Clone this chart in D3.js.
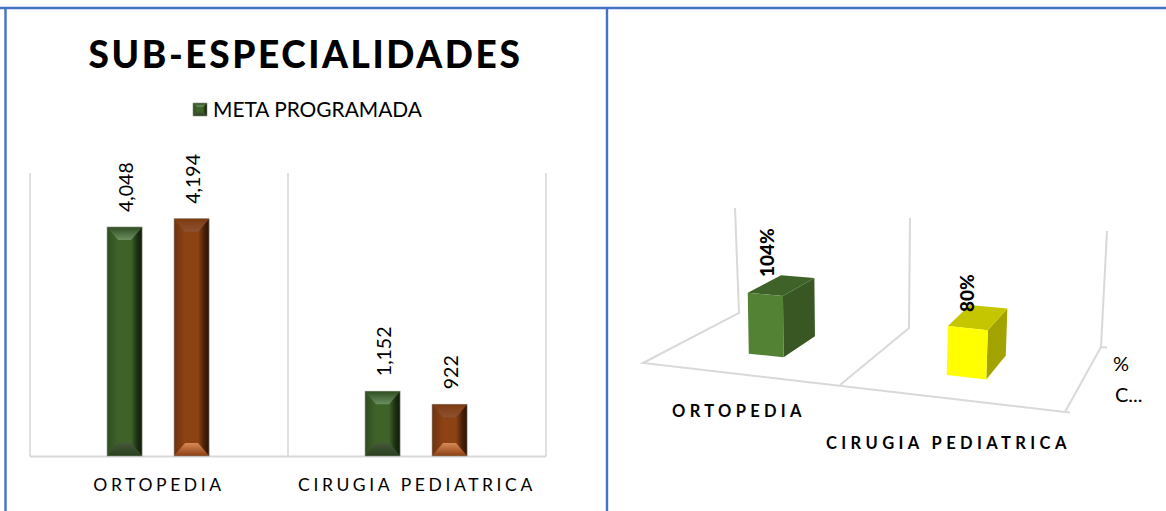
<!DOCTYPE html>
<html><head><meta charset="utf-8">
<script src="https://cdn.jsdelivr.net/npm/d3@7"></script>
<style>html,body{margin:0;padding:0;background:#fff}svg{display:block}text{font-family:Lato,"Noto Sans",sans-serif;fill:#000}</style>
</head><body><div id="c"></div>
<script>
const categories=["ORTOPEDIA","CIRUGIA PEDIATRICA"];
const metaProgramada=[4048,1152];
const metaAlcanzada=[4194,922];
const cumplimiento=[1.04,0.80];
const chartTitle="SUB-ESPECIALIDADES";
const legendLabel="META PROGRAMADA";
const legend3d=["%","C..."];
const fmt=d3.format(",");
const pct=d3.format(".0%");
const W=1166,H=511;
const svg=d3.select("#c").append("svg").attr("width",W).attr("height",H);
const defs=svg.append("defs");
function grad(id,stops,x2,y2){const g=defs.append("linearGradient").attr("id",id).attr("x1",0).attr("y1",0).attr("x2",x2).attr("y2",y2);
 stops.forEach(s=>g.append("stop").attr("offset",s[0]).attr("stop-color",s[1]));}
const skins={
 g:{c:"#3f6229",l:"#2f4d22",r:"#1c3012",e:"#0f1d08",t0:"#2f4d22",t1:"#6a9060",b0:"#283f1c",b1:"#45583a"},
 b:{c:"#8d4213",l:"#6f3210",r:"#4a2109",e:"#2a1205",t0:"#7e3a10",t1:"#8c5230",b0:"#8a3f12",b1:"#d98a55"}};
Object.entries(skins).forEach(([k,s])=>{
 grad("L"+k,[[0,s.l],[1,s.c]],1,0);
 grad("R"+k,[[0,s.c],[.55,s.r],[1,s.e]],1,0);
 grad("T"+k,[[0,s.t0],[1,s.t1]],0,1);
 grad("B"+k,[[0,s.b1],[1,s.b0]],0,1);
});
// panel frame
const blue="#4472c4";
[[5.5,8,5.5,H],[0,8,W,8],[607,8,607,H]].forEach(l=>svg.append("line").attr("x1",l[0]).attr("y1",l[1]).attr("x2",l[2]).attr("y2",l[3]).attr("stroke",blue).attr("stroke-width",2.4));
// left chart
const x0=d3.scaleBand().domain(categories).range([30,546]);
const y=d3.scaleLinear().domain([0,5000]).range([456.5,173]);
const x1=d3.scaleBand().domain([0,1]).range([0,x0.bandwidth()]).paddingInner(.478).paddingOuter(1.164).align(.494);
const L=svg.append("g");
const ticks=[...categories.map(c=>x0(c)),x0.range()[1]];
L.selectAll("line.g").data(ticks).join("line").attr("x1",d=>d).attr("x2",d=>d).attr("y1",y(5000)).attr("y2",y(0)).attr("stroke","#d9d9d9").attr("stroke-width",1.6);
L.append("line").attr("x1",30).attr("x2",546).attr("y1",y(0)).attr("y2",y(0)).attr("stroke","#d9d9d9").attr("stroke-width",1.8);
function pts(a){return a.map(p=>p.join(",")).join(" ");}
function bevelBar(g,xl,xr,yt,yb,k,inset,insV){
 const xa=xl+inset,xb=xr-inset,ya=yt+insV,yc=yb-insV;
 const P=(a,f)=>g.append("polygon").attr("points",pts(a)).attr("fill",f);
 P([[xl,yt],[xr,yt],[xr,yb],[xl,yb]],skins[k].c);
 P([[xl,yt],[xa,ya],[xa,yc],[xl,yb]],`url(#L${k})`);
 P([[xr,yt],[xb,ya],[xb,yc],[xr,yb]],`url(#R${k})`);
 P([[xl,yt],[xr,yt],[xb,ya],[xa,ya]],`url(#T${k})`);
 P([[xl,yb],[xr,yb],[xb,yc],[xa,yc]],`url(#B${k})`);
 g.append("rect").attr("x",xl).attr("y",yt).attr("width",xr-xl).attr("height",yb-yt).attr("fill","none").attr("stroke","#8a8a80").attr("stroke-width",.6);
}
[[metaProgramada,"g",0],[metaAlcanzada,"b",1]].forEach(([vals,k,si])=>{
 vals.forEach((v,i)=>{
  const xl=x0(categories[i])+x1(si),xr=xl+x1.bandwidth();
  bevelBar(L.append("g"),xl,xr,y(v),y(0)-.5,k,11,13);
  L.append("text").attr("transform",`translate(${(xl+xr)/2+8},${y(v)-15}) rotate(-90)`).attr("font-size",19.5).text(fmt(v));
 });
});
L.selectAll("text.c").data(categories).join("text").attr("x",d=>x0(d)+x0.bandwidth()/2).attr("y",491).attr("text-anchor","middle").attr("font-size",17.5).attr("letter-spacing",3.6).text(d=>d);
svg.append("text").attr("x",305.5).attr("y",68).attr("text-anchor","middle").attr("font-size",37).attr("font-weight",900).attr("letter-spacing",2.6).text(chartTitle);
bevelBar(svg.append("g"),193,207,103,116,"g",4,4);
svg.append("text").attr("x",213).attr("y",116.5).attr("font-size",20.9).text(legendLabel);
// right pseudo-3D chart: floor mapped from category (u) and depth (v)
const frontX=d3.scaleLinear().domain([0,1,2]).range([643,840,1065]);
const frontY=d3.scaleLinear().domain([0,1,2]).range([363,385,412]);
const backX=d3.scaleLinear().domain([0,1,2]).range([739,909,1101]);
const backY=d3.scaleLinear().domain([0,1,2]).range([313,328,347]);
const unitBack=d3.scaleLinear().domain([0,1,2]).range([52.5,55,58]);
const lean=d3.scaleLinear().domain([0,1,2]).range([-2,.5,3]);
const project=(u,v,val=0)=>{
 const px=frontX(u)+(backX(u)-frontX(u))*v+val*lean(u);
 const py=frontY(u)+(backY(u)-frontY(u))*v;
 return [px,py-val*(unitBack(u)+(1-v)*7.7)];
};
const R=svg.append("g");
const axisMax=2;
const stroke=(a,w=2)=>R.append("polyline").attr("points",pts(a)).attr("fill","none").attr("stroke","#d9d9d9").attr("stroke-width",w);
stroke([project(0,1,axisMax),project(0,1),project(0,0),project(2,0),[1070,412.5]]);
stroke([project(1,1,axisMax),project(1,1),project(1,0)]);
stroke([project(2,1,axisMax),project(2,1),[1107,347.5]]);
stroke([project(2,1),project(2,0)]);
const u3=d3.scaleBand().domain(categories).range([0,2]).paddingInner(.815).paddingOuter(.4075).align(.478);
const v0=.34,v1=.73;
const boxColors=[{f:"#548235",t:"#3f6229",s:"#385723"},{f:"#ffff00",t:"#c6c600",s:"#a3a300"}];
cumplimiento.forEach((val,i)=>{
 const a=u3(categories[i]),b=a+u3.bandwidth(),c=boxColors[i];
 const face=(q,f)=>R.append("polygon").attr("points",pts(q)).attr("fill",f);
 face([project(b,v0),project(b,v1),project(b,v1,val),project(b,v0,val)],c.s);
 face([project(a,v0,val),project(b,v0,val),project(b,v1,val),project(a,v1,val)],c.t);
 face([project(a,v0),project(b,v0),project(b,v0,val),project(a,v0,val)],c.f);
});
const lab=[[774,277],[974,312]];
cumplimiento.forEach((val,i)=>{
 R.append("text").attr("transform",`translate(${lab[i][0]},${lab[i][1]}) rotate(-90)`).attr("font-size",19).attr("font-weight",900).text(pct(val));
});
R.append("text").attr("x",672).attr("y",417).attr("font-size",16.5).attr("font-weight",700).attr("letter-spacing",4.3).text(categories[0]);
R.append("text").attr("x",826).attr("y",449).attr("font-size",16.5).attr("font-weight",700).attr("letter-spacing",4.4).text(categories[1]);
R.append("text").attr("x",1113).attr("y",371).attr("font-size",20).text(legend3d[0]);
R.append("text").attr("x",1115).attr("y",402).attr("font-size",20).text(legend3d[1]);
</script></body></html>
